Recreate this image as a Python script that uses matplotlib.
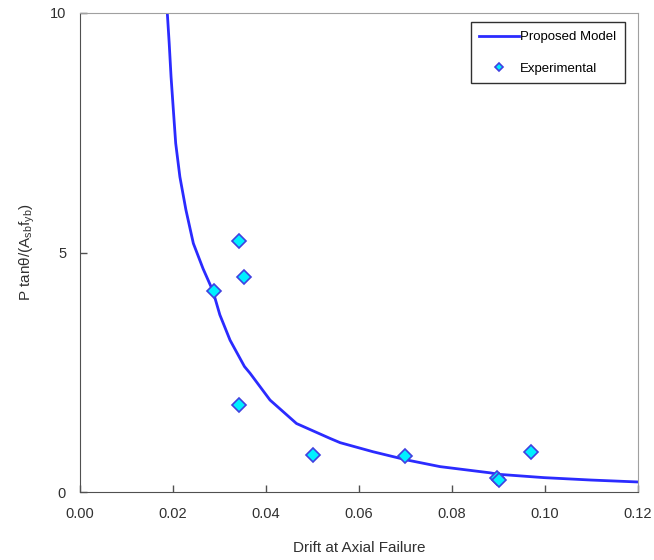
import matplotlib.pyplot as plt

# proposed model curve
model_drift = [0.0188, 0.0192, 0.0196, 0.0201, 0.0206, 0.0215, 0.0228, 0.0244,
               0.0265, 0.0286, 0.0301, 0.0323, 0.0354, 0.0366, 0.0409, 0.0466,
               0.0538, 0.0560, 0.0631, 0.0703, 0.0775, 0.0883, 0.0900, 0.0999,
               0.1100, 0.1200]
model_ratio = [9.99, 9.37, 8.67, 7.97, 7.28, 6.58, 5.89, 5.19,
               4.66, 4.20, 3.70, 3.17, 2.62, 2.48, 1.92, 1.43,
               1.12, 1.03, 0.84, 0.67, 0.53, 0.40, 0.37, 0.30,
               0.25, 0.21]

# experimental data
exp_drift = [0.0288, 0.0343, 0.0352, 0.0343, 0.0501, 0.0700, 0.0898, 0.0902, 0.0970]
exp_ratio = [4.20, 5.25, 4.49, 1.81, 0.78, 0.76, 0.30, 0.26, 0.84]

xticks = [0.00, 0.02, 0.04, 0.06, 0.08, 0.10, 0.12]
yticks = [0, 5, 10]


def output():
    plt.rcParams['font.family'] = ['Liberation Sans', 'DejaVu Sans']
    fig = plt.figure(figsize=(6.54, 5.6), dpi=100)
    ax = fig.add_axes([0.1223, 0.1214, 0.8525, 0.8554])

    ax.plot(model_drift, model_ratio, color='#2b2bff', lw=2,
            solid_joinstyle='round', label='Proposed Model')
    ax.plot(exp_drift, exp_ratio, 'D', ms=7, mfc='#00f0ff', mec='#4040e0',
            mew=1.2, ls='none', label='Experimental')

    ax.set_xlim(0, 0.12)
    ax.set_ylim(0, 10)
    ax.set_xticks(xticks)
    ax.set_xticklabels(['%.2f' % t for t in xticks])
    ax.set_yticks(yticks)
    ax.tick_params(direction='in', length=5, width=1, colors='#505050',
                   labelsize=10.5, labelcolor='#303030')
    ax.tick_params(axis='x', pad=11)
    ax.tick_params(axis='y', pad=10)
    for s in ['left', 'bottom']:
        ax.spines[s].set_color('#505050')
    for s in ['top', 'right']:
        ax.spines[s].set_color('#a0a0a0')

    ax.set_xlabel('Drift at Axial Failure', fontsize=11, color='#303030', labelpad=14)
    ax.set_ylabel(r'P tanθ/(A$_\mathregular{sb}$f$_\mathregular{yb}$)',
                  fontsize=11, color='#303030', labelpad=9)

    leg = ax.legend(loc='upper right', bbox_to_anchor=(0.982, 0.986), fontsize=9.5,
                    fancybox=False, edgecolor='#303030', framealpha=1,
                    handlelength=3.0, borderpad=0.65, labelspacing=1.45,
                    handletextpad=0.1, borderaxespad=0.2, markerscale=0.65)
    leg.get_frame().set_linewidth(1)

    fig.savefig('out.png', dpi=100)


if __name__ == '__main__':
    output()
